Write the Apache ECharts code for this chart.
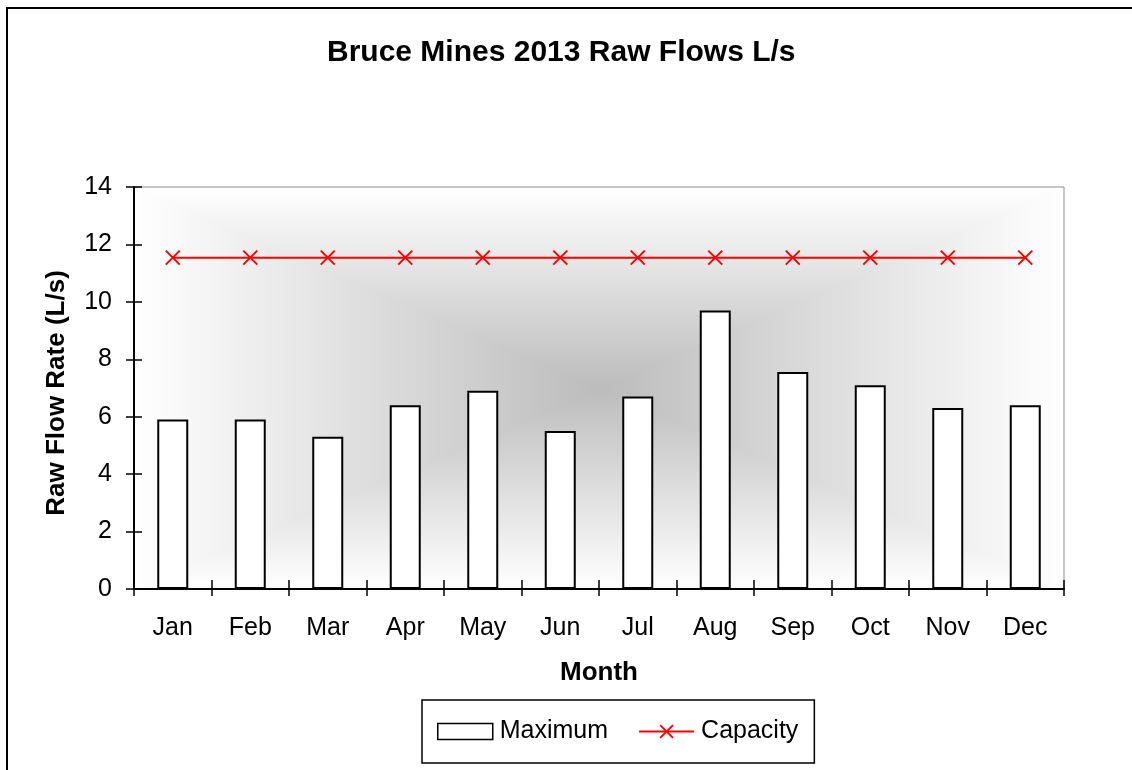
<!DOCTYPE html>
<html>
<head>
<meta charset="utf-8">
<script src="https://cdn.jsdelivr.net/npm/echarts@6/dist/echarts.min.js"></script>
<style>
  html, body { margin: 0; padding: 0; background: #fff; }
  #main { width: 1132px; height: 770px; }
</style>
</head>
<body>
<div id="main"></div>
<script>
var months = ['Jan', 'Feb', 'Mar', 'Apr', 'May', 'Jun', 'Jul', 'Aug', 'Sep', 'Oct', 'Nov', 'Dec'];
var maximum = [5.9, 5.9, 5.3, 6.4, 6.9, 5.5, 6.7, 9.7, 7.56, 7.1, 6.3, 6.4];
var capacity = [11.54, 11.54, 11.54, 11.54, 11.54, 11.54, 11.54, 11.54, 11.54, 11.54, 11.54, 11.54];
var yTicks = [0, 2, 4, 6, 8, 10, 12, 14];

var FONT = '"Liberation Sans", Arial, sans-serif';
var gridLeft = 134, gridTop = 187, gridRight = 68, gridBottom = 181;
var plotW = 1132 - gridLeft - gridRight;
var plotH = 770 - gridTop - gridBottom;

// excel style "from center" shading for the plot area
function makeShade(w, h) {
    var c = document.createElement('canvas');
    c.width = w; c.height = h;
    var ctx = c.getContext('2d');
    var img = ctx.createImageData(w, h);
    for (var y = 0; y < h; y++) {
        for (var x = 0; x < w; x++) {
            var dx = Math.abs(x - w / 2) / (w / 2);
            var dy = Math.abs(y - h / 2) / (h / 2);
            var t = Math.min(1, Math.max(dx, dy));
            var g = Math.round(188 + (255 - 188) * t);
            var k = (y * w + x) * 4;
            img.data[k] = g; img.data[k + 1] = g; img.data[k + 2] = g; img.data[k + 3] = 255;
        }
    }
    ctx.putImageData(img, 0, 0);
    return c;
}

var myChart = echarts.init(document.getElementById('main'));

var option = {
    animation: false,
    textStyle: { fontFamily: FONT },
    title: {
        text: 'Bruce Mines 2013 Raw Flows L/s',
        left: 322,
        top: 33,
        textStyle: { fontSize: 30, fontWeight: 'bold', color: '#000', fontFamily: FONT }
    },
    graphic: [
        {
            type: 'rect',
            shape: { x: 7, y: 8, width: 1200, height: 900 },
            style: { fill: 'none', stroke: '#000', lineWidth: 2 },
            z: -10
        },
        {
            type: 'image',
            left: gridLeft,
            top: gridTop,
            z: -5,
            style: { image: makeShade(plotW, plotH), width: plotW, height: plotH }
        }
    ],
    grid: {
        left: gridLeft,
        top: gridTop,
        right: gridRight,
        bottom: gridBottom,
        show: true,
        backgroundColor: 'transparent',
        borderColor: '#8c8c8c',
        borderWidth: 1
    },
    legend: {
        bottom: 7,
        left: 422,
        padding: [19, 16, 19, 15],
        borderColor: '#000',
        borderWidth: 1.5,
        itemGap: 30,
        itemWidth: 55,
        itemHeight: 16,
        textStyle: { fontSize: 25, color: '#000', fontFamily: FONT, padding: [0, 0, 0, 2] },
        data: [
            { name: 'Maximum', icon: 'rect', itemStyle: { color: '#fff', borderColor: '#000', borderWidth: 1.5 } },
            { name: 'Capacity' }
        ]
    },
    xAxis: [{
        type: 'category',
        data: months,
        boundaryGap: true,
        name: 'Month',
        nameLocation: 'middle',
        nameGap: 71,
        nameTextStyle: { fontSize: 26, fontWeight: 'bold', color: '#000', fontFamily: FONT },
        axisLine: { lineStyle: { color: '#000', width: 2 } },
        axisTick: { show: true, length: 7, lineStyle: { color: '#000', width: 1.5 } },
        axisLabel: { fontSize: 25, color: '#000', margin: 27, fontFamily: FONT },
        splitLine: { show: false }
    }, {
        type: 'category',
        data: months,
        position: 'bottom',
        boundaryGap: true,
        axisLine: { show: false },
        axisTick: { show: true, inside: true, length: 9, lineStyle: { color: '#000', width: 1.5 } },
        axisLabel: { show: false },
        splitLine: { show: false }
    }],
    yAxis: [{
        type: 'value',
        min: 0,
        max: 14,
        interval: 2,
        name: 'Raw Flow Rate (L/s)',
        nameLocation: 'middle',
        nameGap: 64,
        nameTextStyle: { fontSize: 26, fontWeight: 'bold', color: '#000', fontFamily: FONT, padding: [0, 10, 0, 0] },
        axisLine: { show: true, lineStyle: { color: '#000', width: 2 } },
        axisTick: { show: true, length: 8, lineStyle: { color: '#000', width: 1.5 } },
        axisLabel: {
            fontSize: 25, color: '#000', margin: 22, fontFamily: FONT,
            formatter: function (v) { return yTicks.indexOf(v) >= 0 ? String(v) : ''; }
        },
        splitLine: { show: false }
    }, {
        type: 'value',
        min: 0,
        max: 14,
        interval: 2,
        position: 'left',
        axisLine: { show: false },
        axisTick: { show: true, inside: true, length: 8, lineStyle: { color: '#000', width: 1.5 } },
        axisLabel: { show: false },
        splitLine: { show: false }
    }],
    series: [{
        name: 'Maximum',
        type: 'bar',
        data: maximum,
        barWidth: 31,
        itemStyle: { color: '#fff', borderColor: '#000', borderWidth: 2 },
        z: 2
    }, {
        name: 'Capacity',
        type: 'line',
        data: capacity,
        symbol: 'path://M0,0L10,10M10,0L0,10',
        symbolSize: 14,
        lineStyle: { color: '#ff0000', width: 2 },
        itemStyle: { color: '#ff0000', borderColor: '#ff0000', borderWidth: 2 },
        z: 3
    }]
};

myChart.setOption(option);
</script>
</body>
</html>
